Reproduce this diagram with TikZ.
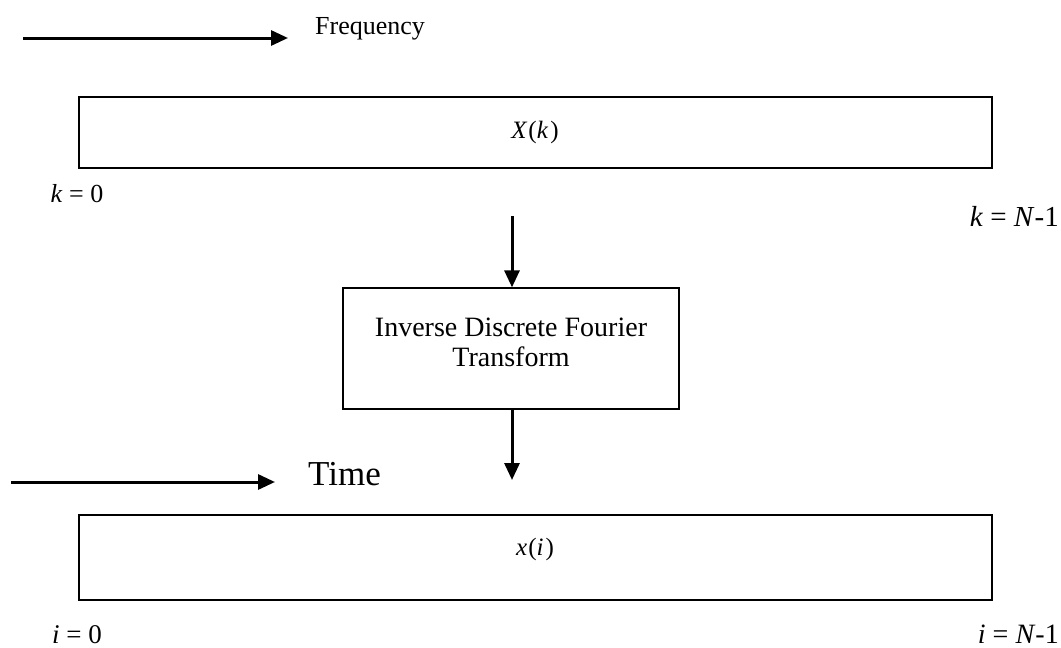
\documentclass[tikz,border=0pt]{standalone}
\usepackage{fontspec}
\setmainfont{Liberation Serif}
\usetikzlibrary{arrows.meta}
\begin{document}
\begin{tikzpicture}[x=1pt,y=-1pt,
  bigbox/.style={draw,line width=1.3pt,minimum width=913pt,inner sep=0pt},
  procbox/.style={draw,line width=1.3pt,minimum width=336pt,minimum height=121pt,inner sep=0pt},
  flow/.style={line width=3pt,-{Triangle[length=17pt,width=15pt]}},
  lbl/.style={inner sep=0pt}]
\useasboundingbox (0,0) rectangle (1061,648);
% frequency axis
\coordinate (fa) at (23,38);
\coordinate (fb) at (288,38);
\draw[flow] (fa) -- (fb);
\node[lbl,anchor=west,font=\fontsize{26}{30}\selectfont] (freq) at (315,29) {Frequency};
% X(k) box
\node[bigbox,minimum height=71pt] (Xbox) at (535.5,132.5) {};
\node[lbl,font=\fontsize{25}{28}\selectfont] (Xk) at (535,132) {\textit{X}\kern1pt(\textit{k}\kern2pt)};
\node[lbl,font=\fontsize{26}{30}\selectfont] (k0) at (77,194) {\textit{k} = 0};
\node[lbl,anchor=east,font=\fontsize{29}{34}\selectfont] (kN) at (1059,216) {\textit{k} = \textit{N}-1};
% IDFT box
\node[procbox] (idft) at (511,348.5) {};
\node[lbl,anchor=north,align=center,font=\fontsize{28}{30}\selectfont] (idfttext) at (511,318) {Inverse Discrete Fourier\\Transform};
\coordinate (inA) at (512,216);
\draw[flow] (inA) -- (idft.north -| inA);
\coordinate (outB) at (512,480);
\draw[flow] (idft.south -| outB) -- (outB);
% time axis
\coordinate (ta) at (11,482);
\coordinate (tb) at (275,482);
\draw[flow] (ta) -- (tb);
\node[lbl,anchor=west,font=\fontsize{35}{38}\selectfont] (time) at (308,474) {Time};
% x(i) box
\node[bigbox,minimum height=85pt] (xbox) at (535.5,557.5) {};
\node[lbl,font=\fontsize{25}{28}\selectfont] (xi) at (535,549) {\textit{x}\kern1pt(\textit{i}\kern2pt)};
\node[lbl,font=\fontsize{27}{32}\selectfont] (i0) at (77,635) {\textit{i} = 0};
\node[lbl,anchor=east,font=\fontsize{28}{32}\selectfont] (iN) at (1059,634) {\textit{i} = \textit{N}-1};
\end{tikzpicture}
\end{document}
